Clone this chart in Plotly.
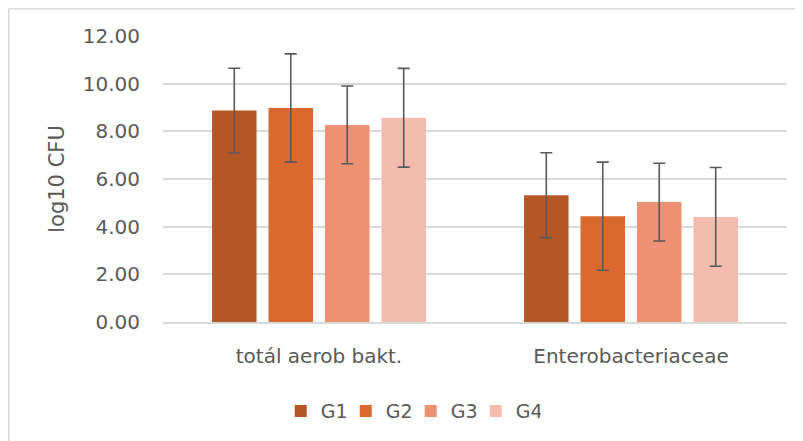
import plotly.graph_objects as go

categories = ["totál aerob bakt.", "Enterobacteriaceae"]
series_names = ["G1", "G2", "G3", "G4"]
values = {
    "G1": [8.87, 5.32],
    "G2": [8.98, 4.44],
    "G3": [8.27, 5.03],
    "G4": [8.57, 4.41],
}
errors = {
    "G1": [1.78, 1.78],
    "G2": [2.27, 2.27],
    "G3": [1.63, 1.63],
    "G4": [2.07, 2.07],
}
colors = {"G1": "#B55627", "G2": "#D9692E", "G3": "#EC9273", "G4": "#F3BCAF"}
tick_vals = [0, 2, 4, 6, 8, 10, 12]

FONT = "DejaVu Sans"
GRAY = "#595959"

W, H = 795, 433
ML, MR, MT, MB = 155, 16, 28, 119
PW, PH = W - ML - MR, H - MT - MB

fig = go.Figure()
for s in series_names:
    fig.add_trace(go.Bar(
        x=categories, y=values[s], name=s,
        marker=dict(color=colors[s], line=dict(width=0)),
        error_y=dict(type="data", array=errors[s], visible=True,
                     color=GRAY, thickness=1.6, width=6),
    ))

edge_x = (-ML + 0.75) / PW
edge_y = 1 + (MT - 0.75) / PH

fig.update_layout(
    width=W, height=H,
    paper_bgcolor="white", plot_bgcolor="white",
    margin=dict(l=ML, r=MR, t=MT, b=MB, autoexpand=False),
    barmode="group", bargap=0.276, bargroupgap=0.212,
    font=dict(family=FONT, size=20, color=GRAY),
    showlegend=True,
    legend=dict(orientation="h", x=0.397, xanchor="center", y=-0.245, yanchor="top",
                font=dict(family=FONT, size=19, color=GRAY), itemwidth=30,
                entrywidth=20, entrywidthmode="pixels",
                traceorder="normal"),
    xaxis=dict(showgrid=False, showline=True, linecolor="#D9D9D9", linewidth=1.5,
               ticks="", tickfont=dict(family=FONT, size=20, color=GRAY),
               ticklabelstandoff=15),
    yaxis=dict(range=[0, 12], tickvals=tick_vals, tickformat=".2f",
               showgrid=True, gridcolor="#D9D9D9", gridwidth=1.5,
               zeroline=False, showline=False, ticks="",
               tickfont=dict(family=FONT, size=20, color=GRAY),
               ticklabelstandoff=22,
               title=dict(text="log10 CFU", font=dict(family=FONT, size=21, color=GRAY), standoff=12)),
    shapes=[
        dict(type="line", xref="paper", yref="paper", x0=edge_x, x1=1.2, y0=edge_y, y1=edge_y,
             line=dict(color="#D9D9D9", width=1.5)),
        dict(type="line", xref="paper", yref="paper", x0=edge_x, x1=edge_x, y0=-0.6, y1=edge_y,
             line=dict(color="#D9D9D9", width=1.5)),
    ],
)

fig.write_html("out.html")
